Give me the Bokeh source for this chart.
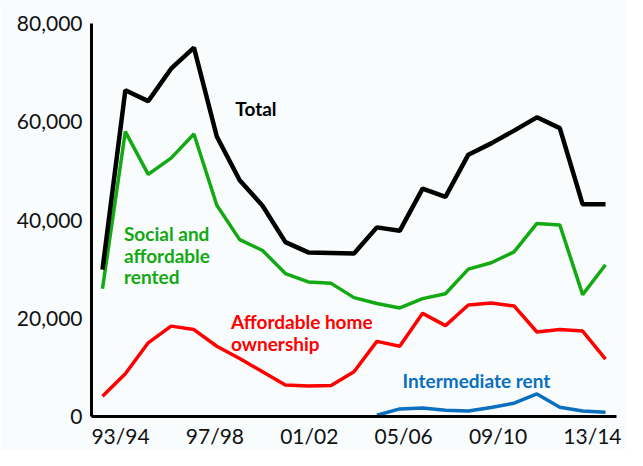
from bokeh.plotting import figure
from bokeh.models import (Range1d, LinearAxis, FixedTicker, NumeralTickFormatter,
                          ColumnDataSource, Label)
from bokeh.embed import file_html
from bokeh.resources import INLINE

nan = float("nan")

# Financial years 1991/92 .. 2013/14
years = ["91/92", "92/93", "93/94", "94/95", "95/96", "96/97", "97/98", "98/99",
         "99/00", "00/01", "01/02", "02/03", "03/04", "04/05", "05/06", "06/07",
         "07/08", "08/09", "09/10", "10/11", "11/12", "12/13", "13/14"]

total = [29900, 66400, 64200, 70800, 75100, 57000, 48100, 42900, 35500, 33400,
         33300, 33200, 38500, 37800, 46400, 44700, 53300, 55600, 58200, 60900,
         58700, 43200, 43200]
social_rented = [26000, 58000, 49300, 52600, 57500, 43000, 36000, 33800, 29100, 27400,
                 27100, 24200, 23000, 22100, 24000, 25000, 30000, 31300, 33500, 39300,
                 39000, 24800, 30900]
home_ownership = [4100, 8700, 15000, 18400, 17700, 14300, 11800, 9100, 6400, 6200,
                  6300, 9100, 15300, 14300, 21000, 18500, 22700, 23100, 22500, 17200,
                  17700, 17400, 11700]
intermediate_rent = [nan, nan, nan, nan, nan, nan, nan, nan, nan, nan, nan, nan,
                     250, 1550, 1750, 1250, 1100, 1850, 2700, 4600, 1900, 1100, 850]

tick_labels = ["93/94", "97/98", "01/02", "05/06", "09/10", "13/14"]
tick_years = [1993, 1997, 2001, 2005, 2009, 2013]
y_ticks = [0, 20000, 40000, 60000, 80000]

BG = "#f8fcfd"
BLACK = "#000000"
GREEN = "#12a912"
RED = "#ff0000"
BLUE = "#0a6fbf"
FONT = "Lato"

src = ColumnDataSource(dict(x=list(range(len(years))), total=total,
                            social=social_rented, home=home_ownership,
                            inter=intermediate_rent))

p = figure(width=627, height=450, x_range=Range1d(-0.48, 22.48),
           y_range=Range1d(0, 80000), output_backend="svg",
           toolbar_location=None, x_axis_location=None,
           min_border_left=91, min_border_right=11, min_border_top=23,
           min_border_bottom=0, background_fill_color=BG, border_fill_color=BG)
p.outline_line_color = None
p.grid.visible = False
p.extra_x_ranges = {"lab": Range1d(1991.77, 2014.02)}

xax = LinearAxis(x_range_name="lab", ticker=FixedTicker(ticks=tick_years),
                 major_label_overrides={y: t for y, t in zip(tick_years, tick_labels)})
p.add_layout(xax, "below")

for ax in (xax, p.yaxis[0]):
    ax.axis_line_width = 3
    ax.axis_line_color = BLACK
    ax.major_tick_line_color = None
    ax.minor_tick_line_color = None
    ax.major_tick_out = 0
    ax.major_tick_in = 0
    ax.major_label_text_font = FONT
    ax.major_label_text_font_size = "21px"
    ax.major_label_text_color = "#111111"

xax.major_label_standoff = 6
p.yaxis.ticker = FixedTicker(ticks=y_ticks)
p.yaxis.formatter = NumeralTickFormatter(format="0,0")
p.yaxis.major_label_standoff = 9

p.line("x", "inter", source=src, line_color=BLUE, line_width=3.5)
p.line("x", "home", source=src, line_color=RED, line_width=3.5)
p.line("x", "social", source=src, line_color=GREEN, line_width=3.5)
p.line("x", "total", source=src, line_color=BLACK, line_width=4.5)

def lab(x, y, text, color):
    p.add_layout(Label(x=x, y=y, text=text, text_color=color, text_font=FONT,
                       text_font_style="bold", text_font_size="19px",
                       text_baseline="alphabetic", text_align="left"))

lab(5.81, 62600, "Total", BLACK)
lab(0.94, 37200, "Social and", GREEN)
lab(0.94, 32750, "affordable", GREEN)
lab(0.94, 28470, "rented", GREEN)
lab(5.62, 19270, "Affordable home", RED)
lab(5.62, 14880, "ownership", RED)
lab(13.12, 7250, "Intermediate rent", BLUE)

open("out.html", "w").write(file_html(p, INLINE))
